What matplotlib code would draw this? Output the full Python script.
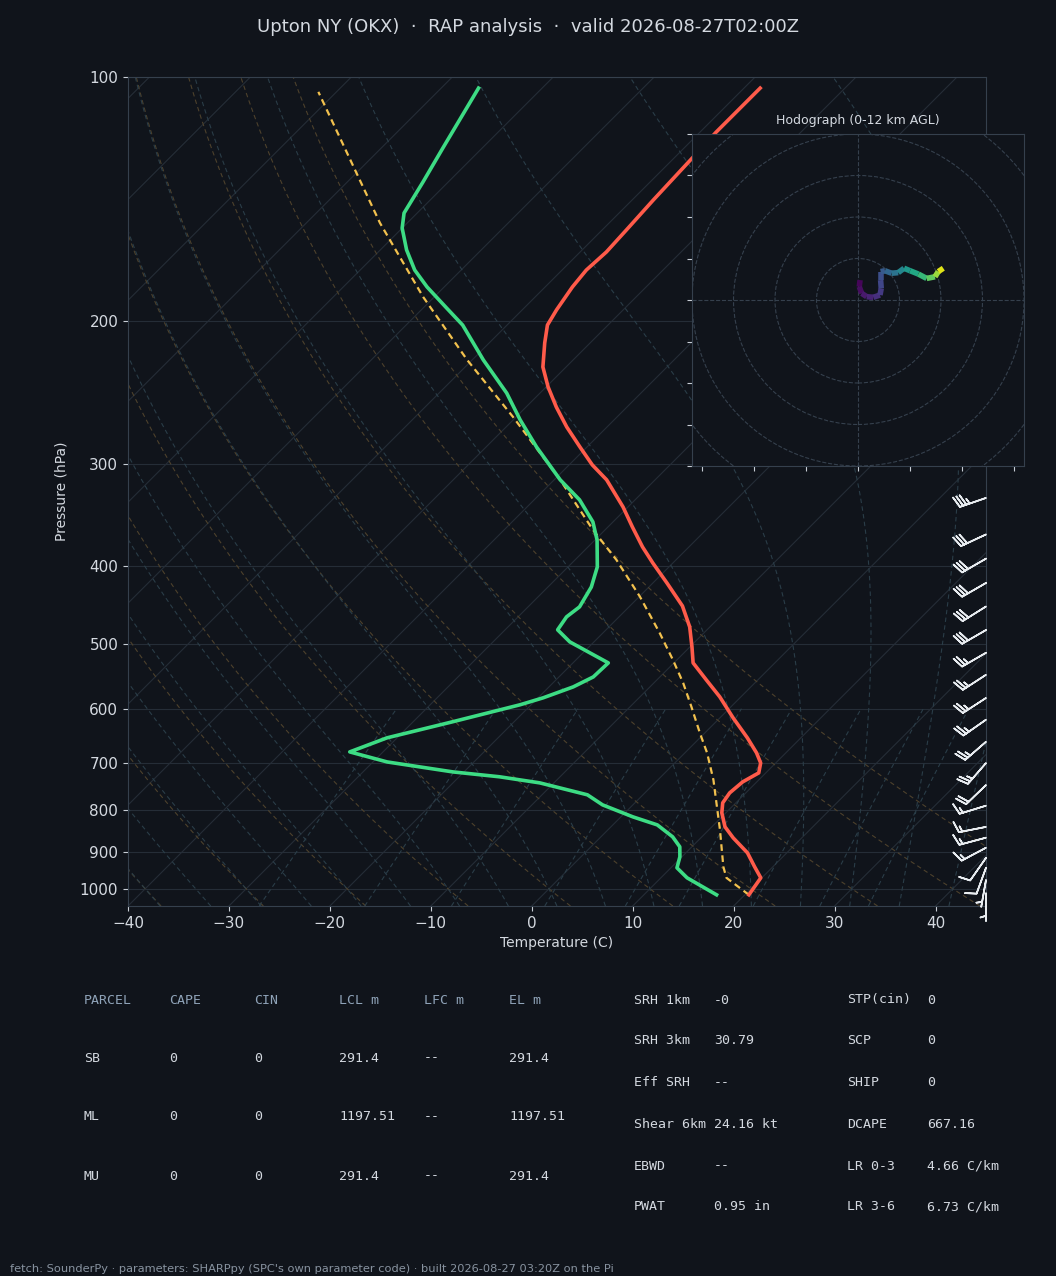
import numpy as np
import matplotlib
matplotlib.use("Agg")
import matplotlib.pyplot as plt
from matplotlib.collections import LineCollection
from matplotlib.colors import Normalize
from matplotlib.patches import Circle
from matplotlib.transforms import blended_transform_factory
from matplotlib.ticker import FixedLocator, NullLocator, FixedFormatter

# --- sounding values (pressure hPa, temperature C) ---
temp_p = [103.2, 109.8, 116.9, 125.8, 141.7, 154.3, 164.3, 172.9, 181.4, 193.6,
          202.1, 212.6, 227.6, 240.9, 255.0, 269.8, 285.6, 300.5, 313.5, 338.5,
          358.2, 379.2, 396.8, 420.1, 448.3, 475.8, 503.5, 526.9, 553.0, 580.1,
          615.7, 651.7, 680.1, 699.7, 719.8, 738.4, 761.8, 783.7, 806.2, 838.8,
          865.4, 903.0, 939.6, 969.4, 1017.2]
temp_c = [-58.4, -58.4, -58.4, -58.2, -57.9, -57.6, -57.4, -57.6, -57.3, -56.6,
          -56.0, -54.5, -52.3, -49.8, -47.0, -44.0, -40.7, -37.7, -34.8, -30.5,
          -27.6, -24.6, -22.0, -18.6, -14.8, -12.0, -9.8, -8.1, -5.1, -2.1,
          1.3, 4.7, 7.1, 8.5, 9.3, 8.6, 8.4, 8.7, 9.6, 11.3,
          13.2, 16.1, 18.2, 19.9, 20.4]

dewp_p = [103.2, 122.3, 134.7, 147.1, 153.5, 163.3, 172.9, 181.4, 192.5, 202.1,
          223.1, 245.1, 264.5, 285.6, 313.5, 331.8, 353.2, 371.7, 401.3, 424.9,
          449.5, 462.4, 479.7, 496.4, 512.2, 526.9, 548.3, 564.0, 581.8, 593.4,
          622.7, 651.7, 678.2, 697.8, 717.8, 727.8, 740.5, 766.0, 788.2, 815.5,
          834.2, 862.9, 887.7, 913.2, 942.2, 969.4, 1017.2]
dewp_c = [-86.3, -83.9, -82.5, -81.3, -80.0, -77.4, -74.6, -71.7, -67.7, -64.4,
          -58.9, -53.3, -49.3, -45.0, -39.4, -35.5, -32.0, -29.8, -27.1, -25.7,
          -24.9, -25.2, -24.8, -22.4, -19.3, -16.5, -16.6, -17.6, -19.5, -21.1,
          -26.1, -31.0, -33.3, -28.6, -21.1, -16.0, -11.4, -5.5, -3.0, 1.2,
          4.4, 7.1, 8.8, 9.8, 10.6, 12.6, 17.2]

parcel_p = [1017.2, 969.4, 939.6, 846.0, 734.2, 680.1, 642.6, 597.0, 557.7, 522.4,
            483.8, 436.9, 393.4, 361.3, 313.5, 262.3, 223.1, 186.6, 151.3, 104.3]
parcel_c = [20.4, 16.5, 15.1, 11.1, 5.5, 2.2, -0.5, -3.9, -7.1, -10.4,
            -14.4, -19.9, -25.9, -31.2, -39.4, -50.3, -60.5, -71.1, -82.7, -101.8]

# wind barbs (direction from, speed kt)
barb_p = [330, 366, 392, 420, 449, 480, 512, 545, 582, 619, 659, 700, 745,
          790, 839, 865, 890, 916, 942, 975, 1013]
barb_dir = [251, 245, 240, 240, 238, 240, 240, 237, 237, 235, 229, 221, 226,
            253, 259, 255, 242, 215, 200, 190, 180]
barb_spd = [35, 30, 30, 30, 30, 30, 25, 25, 25, 25, 25, 25, 20,
            15, 15, 15, 15, 10, 10, 5, 5]

# hodograph (kt) and height (km AGL)
hodo_u = [1.0, 0.6, 1.8, 4.2, 7.4, 10.6, 11.2, 10.9, 10.9, 13.0, 16.2, 19.4,
          22.2, 25.1, 29.1, 33.1, 37.1, 38.7, 41.1]
hodo_v = [9.6, 6.4, 3.2, 1.6, 1.3, 2.4, 5.6, 9.6, 13.7, 14.1, 12.9, 13.2,
          15.3, 14.1, 12.5, 10.4, 11.2, 13.7, 15.3]
hodo_z = [0.0, 0.3, 0.6, 1.0, 1.4, 1.8, 2.3, 2.7, 3.1, 3.6, 4.2, 4.9,
          6.0, 6.8, 7.6, 8.5, 9.6, 10.8, 12.0]

# parameter table
parcel_head = ['PARCEL', 'CAPE', 'CIN', 'LCL m', 'LFC m', 'EL m']
parcel_rows = [['SB', '0', '0', '291.4', '--', '291.4'],
               ['ML', '0', '0', '1197.51', '--', '1197.51'],
               ['MU', '0', '0', '291.4', '--', '291.4']]
kin_labels = ['SRH 1km', 'SRH 3km', 'Eff SRH', 'Shear 6km', 'EBWD', 'PWAT']
kin_values = ['-0', '30.79', '--', '24.16 kt', '--', '0.95 in']
idx_labels = ['STP(cin)', 'SCP', 'SHIP', 'DCAPE', 'LR 0-3', 'LR 3-6']
idx_values = ['0', '0', '0', '667.16', '4.66 C/km', '6.73 C/km']

BG = '#10141b'
GRID = '#252d37'
SPINE = '#35404d'
TXT = '#d4d9e0'
MUTED = '#8fa3b8'
DRY = '#4d412c'
MOIST = '#2a3d48'

W, H = 1056, 1276
P_BOT, P_TOP = 1050.0, 100.0

fig = plt.figure(figsize=(W / 100, H / 100), dpi=100, facecolor=BG)
ax = fig.add_axes([128 / W, 1 - 906 / H, 858 / W, 829 / H])
ax.set_facecolor(BG)
ax.set_yscale('log')
ax.set_ylim(P_BOT, P_TOP)
ax.set_xlim(-40, 45)

# skew so isotherms run at 45 degrees on screen
K = (829 / np.log10(P_BOT / P_TOP)) / (858 / 85.0)


def skew(t, p):
    return np.asarray(t, float) + K * np.log10(P_BOT / np.asarray(p, float))


pp = np.logspace(np.log10(P_BOT), np.log10(P_TOP), 200)

# isobars and isotherms
for p in range(100, 1001, 100):
    ax.axhline(p, color=GRID, lw=0.8, zorder=1)
for t in range(-130, 50, 10):
    ax.plot(skew(np.full_like(pp, t), pp), pp, color=GRID, lw=0.8, zorder=1)

# dry adiabats
for t0 in np.arange(-40, 51, 10):
    tt = (t0 + 273.15) * (pp / 1000.0) ** 0.2857 - 273.15
    ax.plot(skew(tt, pp), pp, color=DRY, lw=0.8, ls=(0, (4, 3)), zorder=1)


# moist adiabats
def es(tk):
    return 6.112 * np.exp(17.67 * (tk - 273.15) / (tk - 29.65))


def dtdp(tk, p):
    rs = 0.622 * es(tk) / (p - es(tk))
    return (287.04 * tk + 2.501e6 * rs) / (p * (1005.7 + 2.501e6 ** 2 * rs * 0.622 / (287.04 * tk ** 2)))


def moist(t0c, pres):
    out = []
    tk = t0c + 273.15
    pcur = 1000.0
    for p in pres:
        n = 20
        h = (p - pcur) / n
        for _ in range(n):
            k1 = dtdp(tk, pcur)
            k2 = dtdp(tk + 0.5 * h * k1, pcur + 0.5 * h)
            k3 = dtdp(tk + 0.5 * h * k2, pcur + 0.5 * h)
            k4 = dtdp(tk + h * k3, pcur + h)
            tk += h * (k1 + 2 * k2 + 2 * k3 + k4) / 6
            pcur += h
        out.append(tk - 273.15)
    return np.array(out)


p_up = np.logspace(3, np.log10(P_TOP), 120)
p_dn = np.array([1000.0, 1025.0, 1050.0])
for t0 in np.arange(-40, 45, 5):
    tu = moist(t0, p_up)
    td = moist(t0, p_dn)
    pm = np.concatenate([p_dn[::-1], p_up[1:]])
    tm = np.concatenate([td[::-1], tu[1:]])
    ax.plot(skew(tm, pm), pm, color=MOIST, lw=0.8, ls=(0, (4, 3)), zorder=1)

# mixing ratio lines
pw = np.linspace(P_BOT, 600, 50)
for w in [0.0004, 0.001, 0.002, 0.004, 0.007, 0.01, 0.016, 0.024, 0.032]:
    e = w * pw / (0.622 + w)
    ln = np.log(e / 6.112)
    td = 243.5 * ln / (17.67 - ln)
    ax.plot(skew(td, pw), pw, color=MOIST, lw=0.8, ls=(0, (4, 3)), zorder=1)

# profiles
ax.plot(skew(parcel_c, parcel_p), parcel_p, color='#f2c14e', lw=1.6, ls=(0, (3, 2)), zorder=4)
ax.plot(skew(temp_c, temp_p), temp_p, color='#ff5b4a', lw=2.6, zorder=5)
ax.plot(skew(dewp_c, dewp_p), dewp_p, color='#3ddc84', lw=2.6, zorder=5)

# wind barbs on the right edge
wd = np.radians(barb_dir)
bu = -np.array(barb_spd) * np.sin(wd)
bv = -np.array(barb_spd) * np.cos(wd)
trans = blended_transform_factory(ax.transAxes, ax.transData)
ax.barbs(np.ones(len(barb_p)), barb_p, bu, bv, transform=trans, clip_on=False,
         length=6.3, color='#e8ecf0', linewidth=1.2, zorder=6)

ax.yaxis.set_major_locator(FixedLocator(range(100, 1001, 100)))
ax.yaxis.set_major_formatter(FixedFormatter([str(v) for v in range(100, 1001, 100)]))
ax.yaxis.set_minor_locator(NullLocator())
ax.set_xticks(range(-40, 41, 10))
ax.tick_params(colors='#c8ced6', labelcolor=TXT, labelsize=11)
for s in ax.spines.values():
    s.set_color(SPINE)
ax.set_xlabel('Temperature (C)', color=TXT, fontsize=10)
ax.set_ylabel('Pressure (hPa)', color=TXT, fontsize=10, labelpad=8)

# hodograph inset
hax = fig.add_axes([692 / W, 1 - 466 / H, 332 / W, 332 / H])
hax.set_facecolor(BG)
hax.set_xlim(-80, 80)
hax.set_ylim(-80, 80)
for r in range(20, 121, 20):
    hax.add_patch(Circle((0, 0), r, fill=False, ls='--', color=SPINE, lw=0.8))
hax.axhline(0, ls='--', color=SPINE, lw=0.8)
hax.axvline(0, ls='--', color=SPINE, lw=0.8)
pts = np.array([hodo_u, hodo_v]).T.reshape(-1, 1, 2)
segs = np.concatenate([pts[:-1], pts[1:]], axis=1)
lc = LineCollection(segs, cmap='viridis', norm=Normalize(0, 12), linewidths=4, zorder=5)
lc.set_array(0.5 * (np.array(hodo_z[:-1]) + np.array(hodo_z[1:])))
hax.add_collection(lc)
hax.set_xticks(np.arange(-75, 76, 25))
hax.set_yticks(np.arange(-80, 81, 20))
hax.tick_params(colors='#c8ced6', labelbottom=False, labelleft=False)
for s in hax.spines.values():
    s.set_color(SPINE)
hax.set_title('Hodograph (0-12 km AGL)', color=TXT, fontsize=9, pad=7)

# title and footer
fig.text(0.5, 1 - 27 / H, 'Upton NY (OKX)  ·  RAP analysis  ·  valid 2026-08-27T02:00Z',
         ha='center', va='center', color=TXT, fontsize=13)
fig.text(10 / W, 1 - 1269 / H,
         "fetch: SounderPy · parameters: SHARPpy (SPC's own parameter code) · built 2026-08-27 03:20Z on the Pi",
         ha='left', va='center', color='#8893a0', fontsize=8.2)


# parameter table
def ftxt(x, y, s, c):
    fig.text(x / W, 1 - y / H, s, ha='left', va='center', color=c,
             fontsize=9.5, family='DejaVu Sans Mono')


col_x = [84, 169, 254, 339, 424, 509]
for x, s in zip(col_x, parcel_head):
    ftxt(x, 1000, s, MUTED)
for y, row in zip([1058, 1117, 1176], parcel_rows):
    for x, s in zip(col_x, row):
        ftxt(x, y, s, TXT)

row_y = [1000, 1041, 1083, 1124, 1166, 1207]
for y, a, b in zip(row_y, kin_labels, kin_values):
    ftxt(634, y, a, TXT)
    ftxt(714, y, b, TXT)
for y, a, b in zip(row_y, idx_labels, idx_values):
    ftxt(847, y, a, TXT)
    ftxt(927, y, b, TXT)

fig.savefig('out.png', dpi=100, facecolor=BG)
